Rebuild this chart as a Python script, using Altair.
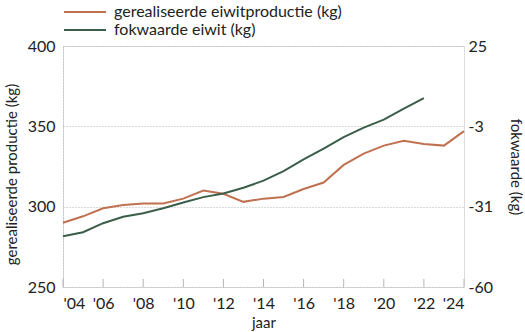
import altair as alt
import pandas as pd

# ---- data ----
years = list(range(2004, 2025))
productie = [290, 294, 299, 301, 302, 302, 305, 310, 308, 303, 305, 306,
             311, 315, 326, 333, 338, 341, 339, 338, 347]
fok_years = list(range(2004, 2023))
fokwaarde = [-42.1, -40.7, -37.5, -35.2, -34.0, -32.2, -30.2, -28.3, -27.0,
             -25.0, -22.5, -19.1, -15.0, -11.2, -7.1, -3.8, -1.0, 2.9, 6.6]
x_ticks = list(range(2004, 2025, 2))
left_ticks = [250, 300, 350, 400]
right_ticks = [-60, -60 + 85 / 3, -60 + 170 / 3, 25]
series = ["gerealiseerde eiwitproductie (kg)", "fokwaarde eiwit (kg)"]
colors = ["#c0714f", "#3b5e4b"]

FONT = "Lato"
TXT = "#222222"
GRID = "#b5b5b5"
FS = 16

df_p = pd.DataFrame({"jaar": years, "waarde": productie, "serie": series[0]})
df_f = pd.DataFrame({"jaar": fok_years, "waarde": fokwaarde, "serie": series[1]})
df_t = pd.DataFrame({"jaar": x_ticks})

color = alt.Color(
    "serie:N",
    scale=alt.Scale(domain=series, range=colors),
    legend=alt.Legend(
        title=None, orient="none", legendX=0, legendY=-42,
        symbolType="M-1,0H5", symbolSize=196, symbolStrokeWidth=2,
        labelFont=FONT, labelFontSize=FS, labelColor=TXT, labelOffset=35,
        labelLimit=0, rowPadding=2,
    ),
)

x_enc = alt.X(
    "jaar:Q",
    scale=alt.Scale(domain=[2004, 2024], nice=False, zero=False),
    axis=alt.Axis(
        values=x_ticks,
        labelExpr="\"'\" + substring(toString(datum.value), 2)",
        title="jaar", grid=False, domain=False, ticks=False,
        labelPadding=8, titlePadding=4,
        labelFont=FONT, labelFontSize=FS, labelColor=TXT,
        titleFont=FONT, titleFontSize=15, titleColor=TXT, titleFontWeight="normal",
    ),
)

left_y = alt.Y(
    "waarde:Q",
    scale=alt.Scale(domain=[250, 400], nice=False, zero=False),
    axis=alt.Axis(
        values=left_ticks, title="gerealiseerde productie (kg)",
        grid=True, gridDash=[1, 2], gridColor=GRID, gridWidth=1,
        domain=True, domainDash=[1, 2], domainColor=GRID, domainWidth=1,
        ticks=False, labelPadding=8, titlePadding=8, titleY=128,
        labelFont=FONT, labelFontSize=FS, labelColor=TXT,
        titleFont=FONT, titleFontSize=15, titleColor=TXT, titleFontWeight="normal",
    ),
)

brown = alt.Chart(df_p).mark_line(strokeWidth=2).encode(
    x=x_enc, y=left_y, color=color
)

ticks = alt.Chart(df_t).mark_rule(color=GRID, strokeWidth=1).encode(
    x=alt.X("jaar:Q"), y=alt.datum(250), y2=alt.datum(255)
)

green = alt.Chart(df_f).mark_line(strokeWidth=2).encode(
    x=alt.X("jaar:Q"),
    y=alt.Y(
        "waarde:Q",
        scale=alt.Scale(domain=[-60, 25], nice=False, zero=False),
        axis=alt.Axis(
            orient="right", values=right_ticks, labelExpr="ceil(datum.value)",
            title="fokwaarde (kg)", titleAngle=90, grid=False, domain=False,
            ticks=False, labelPadding=4, titlePadding=15,
            labelFont=FONT, labelFontSize=FS, labelColor=TXT,
            titleFont=FONT, titleFontSize=15, titleColor=TXT, titleFontWeight="normal",
        ),
    ),
    color=color,
)

chart = alt.layer(alt.layer(ticks, brown), green).resolve_scale(
    y="independent"
).properties(
    width=401, height=241,
    autosize=alt.AutoSizeParams(type="none"),
    padding={"left": 63, "top": 46, "right": 61, "bottom": 45},
).configure_view(stroke=None).configure(background="white")

chart.save("out.html", embed_options={"renderer": "svg", "actions": False})
